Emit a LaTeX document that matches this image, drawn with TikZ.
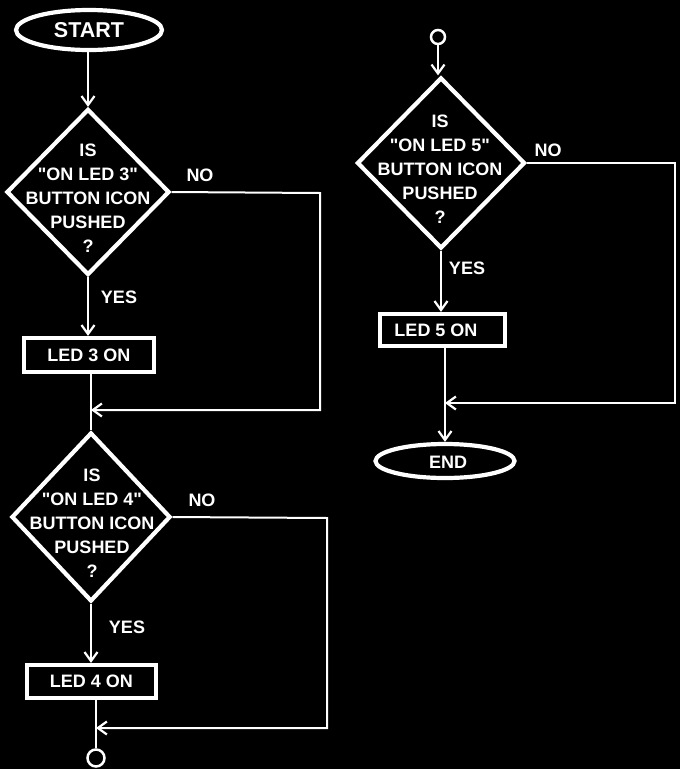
\documentclass[tikz,border=0pt]{standalone}
\usepackage{fontspec}
\setmainfont{Liberation Sans}[Ligatures=TeXOff]
\usetikzlibrary{shapes.geometric,arrows.meta,calc}
\begin{document}
\begin{tikzpicture}[x=1pt,y=-1pt,
  every node/.style={text=white,font=\bfseries\fontsize{18}{24}\selectfont},
  shapeline/.style={draw=white,line width=4.2pt},
  term/.style={shapeline,ellipse,inner sep=0pt},
  dec/.style={shapeline,diamond,inner sep=0pt},
  proc/.style={shapeline,rectangle,inner sep=0pt},
  conn/.style={draw=white,line width=2pt},
  arr/.style={conn,-{Straight Barb[length=9pt,width=13pt,line width=2.2pt]}},
  dot/.style={circle,draw=white,line width=2.5pt,inner sep=0pt},
  txt/.style={align=center},
]
\fill[black] (0,0) rectangle (680,769);
\useasboundingbox (0,0) rectangle (680,769);

% ---------- left column ----------
\node[term,minimum width=146pt,minimum height=40pt,font=\bfseries\fontsize{21.5}{24}\selectfont] (start) at (89,30) {START};

\node[dec,minimum width=163pt,minimum height=166pt] (d1) at (88,192) {};
\node[txt] (t1) at (88,198.5) {IS\\"ON LED 3"\\BUTTON ICON\\PUSHED\\?};
\node (no1) at (200,175) {NO};
\node (yes1) at (119,297) {YES};
\node[proc,minimum width=130pt,minimum height=34pt] (b3) at (89,355) {LED 3 ON};

\node[dec,minimum width=159pt,minimum height=169pt] (d2) at (91,517) {};
\node[txt] (t2) at (92,523.5) {IS\\"ON LED 4"\\BUTTON ICON\\PUSHED\\?};
\node (no2) at (202,500) {NO};
\node (yes2) at (127,627) {YES};
\node[proc,minimum width=129pt,minimum height=33pt] (b4) at (91.5,681.5) {LED 4 ON};
\node[dot,minimum size=17pt] (cbot) at (96,758) {};

\coordinate (k1a) at (320,193);
\coordinate (k1b) at (320,410);
\coordinate (m1) at (91,410);
\coordinate (k2a) at (327,518);
\coordinate (k2b) at (327,728);
\coordinate (m2) at (96,728);

\draw[arr] (start.south -| d1.north) -- (d1.north);
\draw[arr] (d1.south) -- (d1.south |- b3.north);
\draw[conn] (b3.south -| d2.north) -- (d2.north);
\draw[arr] (d1.east) -- (k1a) -- (k1b) -- (m1);
\draw[arr] (d2.south) -- (b4.north -| d2.south);
\draw[conn] (b4.south -| cbot.north) -- (cbot.north);
\draw[arr] (d2.east) -- (k2a) -- (k2b) -- (m2);

% ---------- right column ----------
\node[dot,minimum size=14pt] (ctop) at (438,37) {};
\node[dec,minimum width=168pt,minimum height=171pt] (d3) at (441,163) {};
\node[txt] (t3) at (440,169) {IS\\"ON LED 5"\\BUTTON ICON\\PUSHED\\?};
\node (no3) at (548,150) {NO};
\node (yes3) at (467,268) {YES};
\node[proc,minimum width=125pt,minimum height=32pt] (b5) at (442.5,330) {};
\node (b5t) at (436,330) {LED 5 ON};
\node[term,minimum width=139pt,minimum height=34pt] (endn) at (445,461) {};
\node (endt) at (448,462) {END};

\coordinate (k3a) at (675,163);
\coordinate (k3b) at (675,403);
\coordinate (m3) at (445,403);

\draw[arr] (ctop.south) -- (ctop.south |- d3.north);
\draw[arr] (d3.south) -- (d3.south |- b5.north);
\draw[arr] (b5.south -| endn.north) -- (endn.north);
\draw[arr] (d3.east) -- (k3a) -- (k3b) -- (m3);
\end{tikzpicture}
\end{document}
